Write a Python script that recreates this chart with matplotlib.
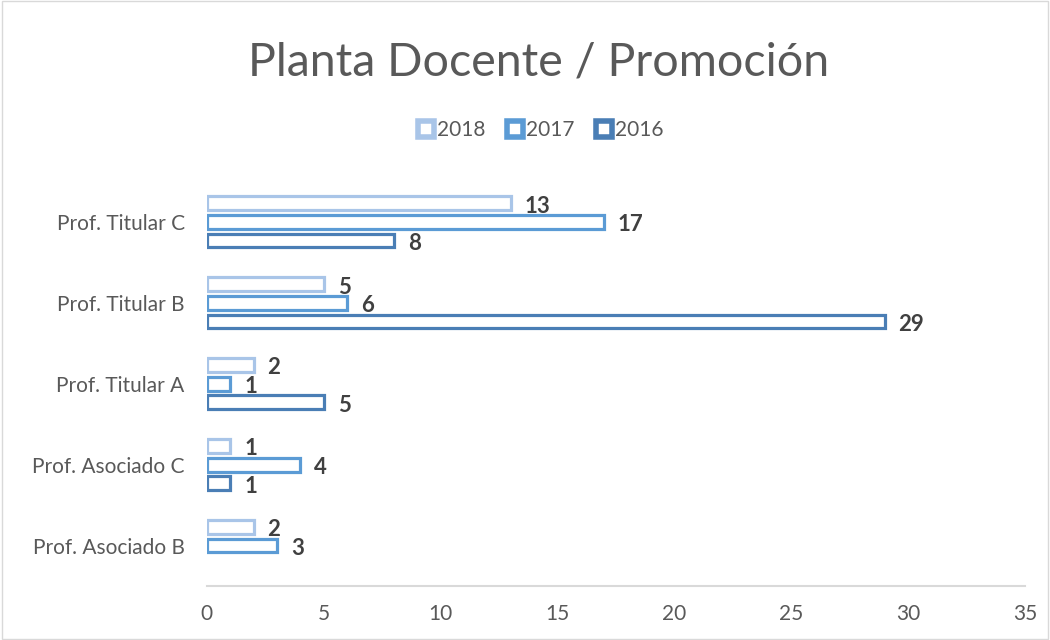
import numpy as np
import matplotlib.pyplot as plt
from matplotlib.patches import Patch

# Datos del grafico
categorias = ["Prof. Asociado B", "Prof. Asociado C", "Prof. Titular A",
              "Prof. Titular B", "Prof. Titular C"]
series = ["2018", "2017", "2016"]
v2018 = [2, 1, 2, 5, 13]
v2017 = [3, 4, 1, 6, 17]
v2016 = [np.nan, 1, 5, 29, 8]
valores = [v2018, v2017, v2016]
colores = ["#A9C5E8", "#5B9BD5", "#4A7EB5"]

gris = "#595959"
fig = plt.figure(figsize=(10.5, 6.4), dpi=100)
fig.patch.set_facecolor("white")
ax = fig.add_axes([0.197, 0.0844, 0.779, 0.632])

y = np.arange(len(categorias))
offsets = [0.23, 0.0, -0.23]
for vals, col, off in zip(valores, colores, offsets):
    vals = np.array(vals, dtype=float)
    mask = ~np.isnan(vals)
    ax.barh(y[mask] + off, vals[mask], height=0.17, facecolor="white",
            edgecolor=col, linewidth=2.3)
    for yi, v in zip(y[mask] + off, vals[mask]):
        ax.annotate(f"{int(v)}", (v, yi), xytext=(10, -2), textcoords="offset points",
                    ha="left", va="center", fontsize=16, fontweight="bold",
                    color="#404040", family="Lato")

ax.set_xlim(0, 35)
ax.set_ylim(-0.5, len(categorias) - 0.5)
ax.set_xticks(range(0, 36, 5))
ax.set_yticks(y)
ax.set_yticklabels(categorias)
for s in ["top", "right", "left"]:
    ax.spines[s].set_visible(False)
ax.spines["bottom"].set_color("#D9D9D9")
ax.spines["bottom"].set_linewidth(1.5)
ax.tick_params(axis="both", length=0, labelsize=15, labelcolor=gris)
ax.tick_params(axis="x", pad=13)
ax.tick_params(axis="y", pad=16)
for lab in ax.get_xticklabels() + ax.get_yticklabels():
    lab.set_family("Lato")

fig.text(0.513, 0.903, "Planta Docente / Promoción", ha="center", va="center",
         fontsize=33.5, color=gris, family="Lato")

handles = [Patch(facecolor="white", edgecolor=c, linewidth=4) for c in colores]
leg = fig.legend(handles, series, loc="center", bbox_to_anchor=(0.515, 0.797),
                 ncol=3, frameon=False, fontsize=15, handlelength=0.8,
                 handleheight=0.8, handletextpad=0.15, columnspacing=1.0)
for t in leg.get_texts():
    t.set_color(gris)
    t.set_family("Lato")

# borde del grafico
fig.patches.append(plt.Rectangle((0.002, 0.002), 0.996, 0.996, transform=fig.transFigure,
                                 fill=False, edgecolor="#D9D9D9", linewidth=1))

plt.savefig("out.png", dpi=100, facecolor=fig.get_facecolor())
